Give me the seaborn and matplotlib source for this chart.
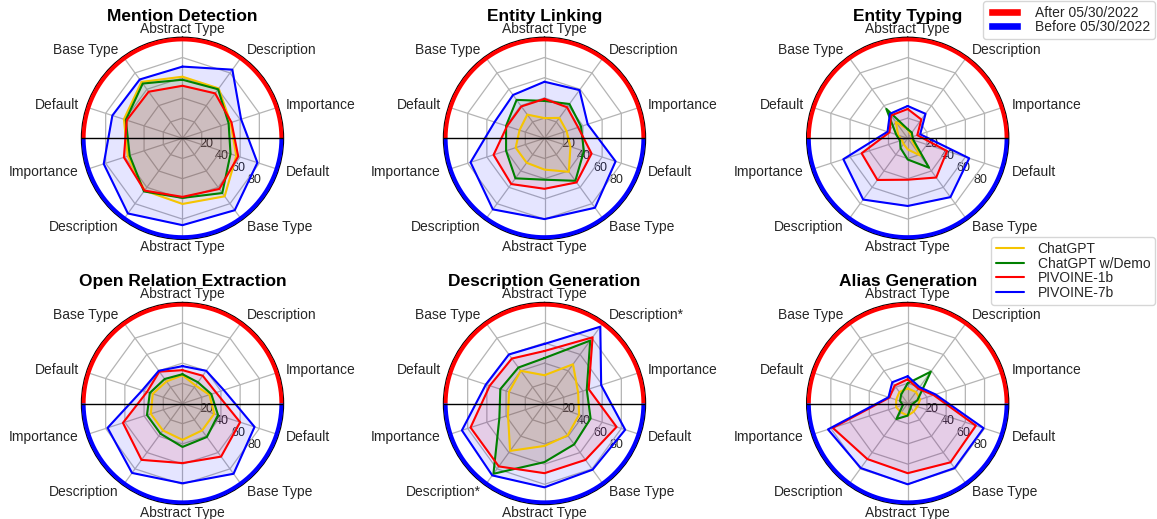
import numpy as np
import matplotlib
matplotlib.use("Agg")
import matplotlib.pyplot as plt
from matplotlib.patches import Patch
from matplotlib.lines import Line2D
import seaborn as sns

# spokes, clockwise from the top; upper half = after cutoff, lower half = before
axis_labels = ["Abstract Type", "Description", "Importance", "Default", "Base Type",
               "Abstract Type", "Description", "Importance", "Default", "Base Type"]
models = ["ChatGPT", "ChatGPT w/Demo", "PIVOINE-1b", "PIVOINE-7b"]
tasks = ["Mention Detection", "Entity Linking", "Entity Typing",
         "Open Relation Extraction", "Description Generation", "Alias Generation"]

# rows follow `models`
mention_detection = [
    [61, 61, 50, 56, 71, 65, 64, 57, 61, 69],
    [58, 60, 48, 50, 67, 59, 65, 55, 59, 67],
    [52, 55, 51, 58, 62, 58, 64, 61, 58, 57],
    [71, 84, 61, 78, 88, 86, 92, 82, 73, 72],
]
entity_linking = [
    [20, 25, 23, 27, 41, 31, 30, 30, 26, 29],
    [37, 42, 38, 41, 52, 41, 49, 40, 40, 47],
    [39, 38, 35, 49, 54, 50, 56, 53, 39, 39],
    [56, 59, 45, 74, 85, 80, 87, 77, 52, 53],
]
entity_typing = [
    [9, 5, 5, 4, 21, 11, 7, 6, 10, 20],
    [9, 7, 5, 6, 36, 21, 12, 8, 12, 36],
    [29, 23, 10, 41, 48, 41, 51, 48, 19, 28],
    [32, 30, 13, 64, 72, 67, 75, 67, 21, 30],
]
open_relation = [
    [28, 22, 28, 33, 33, 36, 33, 33, 31, 27],
    [29, 26, 30, 37, 41, 43, 37, 37, 34, 30],
    [33, 34, 35, 60, 65, 59, 69, 62, 37, 39],
    [37, 40, 43, 75, 86, 79, 85, 78, 42, 40],
]
description_gen = [
    [28, 48, 35, 36, 39, 42, 58, 38, 37, 40],
    [45, 77, 44, 48, 50, 58, 86, 47, 46, 44],
    [52, 81, 46, 75, 69, 69, 77, 77, 57, 55],
    [59, 94, 59, 84, 81, 83, 88, 86, 61, 60],
]
alias_gen = [
    [15, 14, 13, 10, 10, 12, 11, 12, 12, 14],
    [20, 39, 10, 4, 5, 12, 19, 5, 8, 11],
    [24, 18, 27, 71, 72, 69, 68, 78, 19, 22],
    [27, 20, 29, 79, 79, 80, 79, 83, 20, 26],
]
task_data = [mention_detection, entity_linking, entity_typing,
             open_relation, description_gen, alias_gen]

colors = ["#f5c400", "green", "red", "blue"]

sns.set_theme(style="white")
plt.rcParams["font.family"] = ["Liberation Sans", "DejaVu Sans"]

fig = plt.figure(figsize=(11.57, 5.19), dpi=100)
W, H = 1157, 519
R = 101  # axes radius in px
centers_x = [182.5, 544.5, 907.7]
centers_y = [138.3, 403.5]

n = len(axis_labels)
angles = np.linspace(0, 2 * np.pi, n, endpoint=False)
closed = np.append(angles, angles[0])

for i, (task, data) in enumerate(zip(tasks, task_data)):
    cx = centers_x[i % 3]
    cy = centers_y[i // 3]
    ax = fig.add_axes([(cx - R) / W, 1 - (cy + R) / H, 2 * R / W, 2 * R / H],
                      projection="polar")
    ax.set_theta_offset(np.pi / 2)
    ax.set_theta_direction(-1)
    ax.set_ylim(0, 100)

    labels = list(axis_labels)
    if task == "Description Generation":
        labels[1] = labels[6] = "Description*"
    ax.set_xticks(angles)
    ax.set_xticklabels([])
    for lab, a in zip(labels, angles):
        if np.isclose(a, 0) or np.isclose(a, np.pi):
            ha = "center"
        elif a < np.pi:
            ha = "left"
        else:
            ha = "right"
        ax.text(a, 108, lab, ha=ha, va="center", fontsize=10, color="#262626")

    ax.xaxis.grid(True, color="#b4b4b4", lw=0.9)
    ax.yaxis.grid(False)
    ax.set_yticks([20, 40, 60, 80])
    ax.set_yticklabels(["20", "40", "60", "80"], fontsize=9)
    ax.set_rlabel_position(126)

    # polygon grid
    for r in [20, 40, 60, 80]:
        ax.plot(closed, [r] * len(closed), color="#b4b4b4", lw=0.9, zorder=1)

    # time-split ring
    top = np.linspace(-np.pi / 2, np.pi / 2, 200)
    bot = np.linspace(np.pi / 2, 3 * np.pi / 2, 200)
    ax.plot(top, [98] * len(top), color="red", lw=3, solid_capstyle="butt", zorder=3)
    ax.plot(bot, [98] * len(bot), color="blue", lw=3, solid_capstyle="butt", zorder=3)

    for vals, c in zip(data, colors):
        v = np.append(vals, vals[0])
        ax.plot(closed, v, color=c, lw=1.5, zorder=4)
        ax.fill(closed, v, color=c, alpha=0.1, zorder=2)

    ax.plot([np.pi / 2] * 2, [0, 100], color="black", lw=1, zorder=5)
    ax.plot([3 * np.pi / 2] * 2, [0, 100], color="black", lw=1, zorder=5)
    ax.spines["polar"].set_color("black")
    ax.spines["polar"].set_linewidth(1)

    ax.set_title(task, fontsize=12.5, fontweight="bold", color="black", y=1.082, pad=0)

time_handles = [Patch(facecolor="red", label="After 05/30/2022"),
                Patch(facecolor="blue", label="Before 05/30/2022")]
fig.legend(handles=time_handles, loc="upper right", bbox_to_anchor=(1155 / W, 1 - 1 / H),
           fontsize=10, labelspacing=0.0, handlelength=2.4, handleheight=0.6,
           handletextpad=1.0, borderpad=0.35, borderaxespad=0, frameon=True)

model_handles = [Line2D([0], [0], color=c, lw=1.5, label=m) for c, m in zip(colors, models)]
fig.legend(handles=model_handles, loc="upper right", bbox_to_anchor=(1155 / W, 1 - 237 / H),
           fontsize=10, labelspacing=0.05, handletextpad=1.0, borderpad=0.35,
           borderaxespad=0, frameon=True)

fig.savefig("out.png", dpi=100)
